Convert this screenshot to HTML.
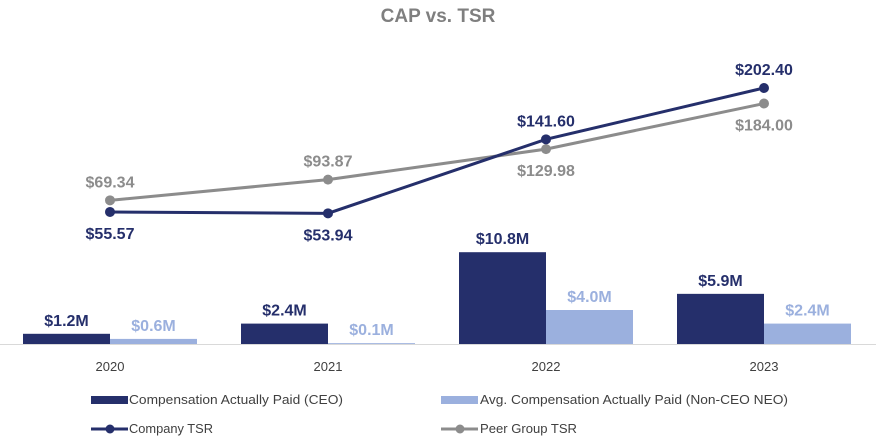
<!DOCTYPE html>
<html><head><meta charset="utf-8"><style>
html,body{margin:0;padding:0;background:#fff;}
svg{display:block;font-family:"Liberation Sans",sans-serif;}
</style></head><body>
<svg id="chart" width="876" height="438" viewBox="0 0 876 438">
<text x="438" y="22" text-anchor="middle" font-size="19" font-weight="bold" fill="#7f7f7f">CAP vs. TSR</text>
<g id="bars"></g>
<line x1="0" y1="344.5" x2="876" y2="344.5" stroke="#d9d9d9" stroke-width="1"/>
<g id="xticks"></g>
<g id="lines"></g>
<g>
 <g>
  <rect x="91" y="396" width="37" height="8" fill="#252F6B"/>
  <text x="129" y="404" font-size="13" fill="#404040" textLength="214" lengthAdjust="spacingAndGlyphs">Compensation Actually Paid (CEO)</text>
 </g>
 <g>
  <rect x="441" y="396" width="37" height="8" fill="#9BB0DE"/>
  <text x="480" y="404" font-size="13" fill="#404040" textLength="308" lengthAdjust="spacingAndGlyphs">Avg. Compensation Actually Paid (Non-CEO NEO)</text>
 </g>
 <g>
  <line x1="91" y1="429" x2="128" y2="429" stroke="#252F6B" stroke-width="3"/>
  <circle cx="110" cy="429" r="4.5" fill="#252F6B"/>
  <text x="129" y="433" font-size="13" fill="#404040" textLength="84" lengthAdjust="spacingAndGlyphs">Company TSR</text>
 </g>
 <g>
  <line x1="441" y1="429" x2="478" y2="429" stroke="#8C8C8C" stroke-width="3"/>
  <circle cx="460" cy="429" r="4.5" fill="#8C8C8C"/>
  <text x="480" y="433" font-size="13" fill="#404040" textLength="97" lengthAdjust="spacingAndGlyphs">Peer Group TSR</text>
 </g>
</g>
</svg>
<script>
const categories = ["2020","2021","2022","2023"];
const ceoCap = [1.2, 2.4, 10.8, 5.9];
const ceoCapLabels = ["$1.2M","$2.4M","$10.8M","$5.9M"];
const neoCap = [0.6, 0.1, 4.0, 2.4];
const neoCapLabels = ["$0.6M","$0.1M","$4.0M","$2.4M"];
const companyTsr = [55.57, 53.94, 141.60, 202.40];
const peerTsr = [69.34, 93.87, 129.98, 184.00];

const NS = "http://www.w3.org/2000/svg";
const NAVY="#252F6B", LIGHT="#9BB0DE", GRAY="#8C8C8C";
function xc(i){ return 110 + i*218; }
function yBar(v){ return 344 - v*8.5; }
function yTsr(v){ return 258.9 - v*0.8445; }
function mk(tag, attrs, parent){
  const e=document.createElementNS(NS,tag);
  for(const k in attrs) e.setAttribute(k,attrs[k]);
  parent.appendChild(e); return e;
}
const bars=document.getElementById('bars');
const xt=document.getElementById('xticks');
const lines=document.getElementById('lines');
categories.forEach((c,i)=>{
  const cx=xc(i);
  let r=mk('rect',{x:cx-87,y:yBar(ceoCap[i]),width:87,height:344-yBar(ceoCap[i]),fill:NAVY},bars);
  
  
  let t=mk('text',{x:cx-43.5,y:yBar(ceoCap[i])-8,'text-anchor':'middle','font-size':'16','font-weight':'bold',fill:NAVY},bars);
  t.textContent=ceoCapLabels[i];
  
  
  r=mk('rect',{x:cx,y:yBar(neoCap[i]),width:87,height:344-yBar(neoCap[i]),fill:LIGHT},bars);
  
  
  t=mk('text',{x:cx+43.5,y:yBar(neoCap[i])-8,'text-anchor':'middle','font-size':'16','font-weight':'bold',fill:LIGHT},bars);
  t.textContent=neoCapLabels[i];
  
  
  t=mk('text',{x:cx,y:371,'text-anchor':'middle','font-size':'13',fill:'#404040'},xt);
  t.textContent=c;
  
  
});
function series(vals,color,name,above){
  const pts=vals.map((v,i)=>xc(i)+','+yTsr(v)).join(' ');
  const pl=mk('polyline',{points:pts,fill:'none',stroke:color,'stroke-width':'3'},lines);
  
  
  vals.forEach((v,i)=>{
    const c=mk('circle',{cx:xc(i),cy:yTsr(v),r:5,fill:color},lines);
    
    
    const up=above[i];
    const t=mk('text',{x:xc(i),y:up?yTsr(v)-13:yTsr(v)+27,'text-anchor':'middle','font-size':'16','font-weight':'bold',fill:color},lines);
    t.textContent='$'+v.toFixed(2);
    
    
  });
}
series(peerTsr,GRAY,'peer-tsr',[true,true,false,false]);
series(companyTsr,NAVY,'company-tsr',[false,false,true,true]);
</script>
</body></html>
